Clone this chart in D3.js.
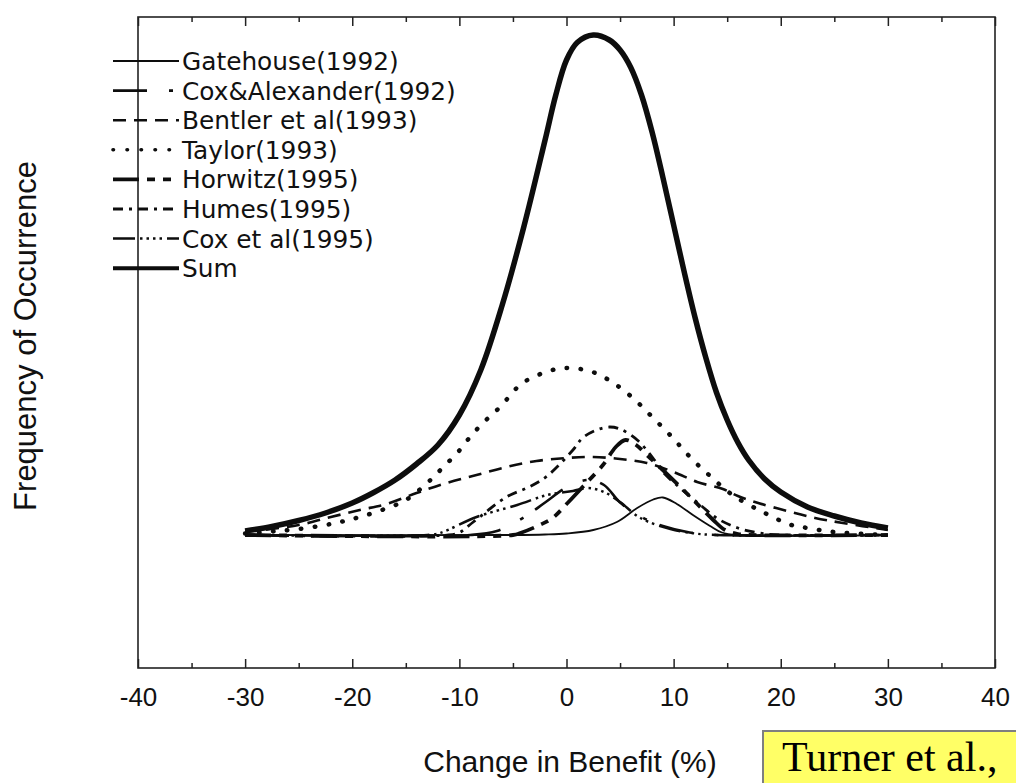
<!DOCTYPE html>
<html>
<head>
<meta charset="utf-8">
<script src="https://cdn.jsdelivr.net/npm/d3@7"></script>
<style>
  html, body { margin: 0; padding: 0; background: #fff; }
  svg { display: block; }
  .tick text { font-family: "Liberation Sans", Arial, sans-serif; font-size: 26px; fill: #111; }
  .legend text { font-family: "DejaVu Sans", Verdana, sans-serif; font-size: 24.8px; fill: #111; }
</style>
</head>
<body>
<svg id="chart" width="1016" height="783"></svg>
<script>
// x = change in benefit (%), y = frequency (sum peak ~ 100)
var names = ["Gatehouse(1992)", "Cox&Alexander(1992)", "Bentler et al(1993)", "Taylor(1993)",
             "Horwitz(1995)", "Humes(1995)", "Cox et al(1995)", "Sum"];

var gatehouse = [[-30,0],[-5,0],[-2,0.1],[0,0.3],[2.5,1],[4.7,2.6],[6.6,5.4],[8.1,7.1],[9,7.5],
                 [10.3,6.2],[11.8,4],[13.4,1.8],[14.5,0.5],[16,0],[30,0]];
var coxAlexander = [[-30,0],[-9,0],[-6.5,0.8],[-4,3.5],[-2,6.5],[0,9.5],[2,11],[3.5,10],[5,6.5],
                    [7,3.6],[9,1.8],[11.5,0.5],[14,0],[30,0]];
var bentler = [[-30,0.6],[-25,2],[-22,3.6],[-19.3,5],[-16.8,6.2],[-14,8.4],[-11.2,10.4],[-8.4,12],
               [-5.6,13.6],[-2.8,14.8],[0,15.4],[2.5,15.6],[5,15.2],[7.5,14.4],[10,12.6],[12.2,10.6],
               [14.6,9.2],[16,7.8],[17.9,6.4],[20.6,4.8],[23.2,3.4],[25.8,2.4],[30,1]];
var taylor = [[-30,0.3],[-27.5,0.7],[-25,1.2],[-22,2.2],[-20,3.2],[-17.5,4.8],[-15,7],[-12.7,11],
              [-11.5,13.6],[-10.2,16.4],[-9,19.6],[-7.8,22.4],[-6.2,25.6],[-4.1,30.4],[-1.3,33],
              [0,33.4],[1.3,33.2],[2.7,32.4],[4.1,30.8],[5.3,29],[6.7,26.4],[8,23.6],[9.4,20.6],
              [10.6,17.8],[11.8,15],[13.2,12.2],[15.5,8],[18.5,4.4],[21,2],[22.5,1.4],[25,0.6],[30,0]];
var horwitz = [[-30,0],[-5,0],[-4.3,0.4],[-2.5,2],[-1.3,3.4],[0.1,6.4],[1.5,9.6],[3.4,14],[4.6,17.6],
               [5.5,19],[6.5,18],[7.5,16],[8.7,13.6],[11.2,8.4],[13.7,3],[14.8,1],[16,0.2],[17,0],[30,0]];
var humes = [[-30,0],[-11,0],[-10,0.5],[-8.7,2.6],[-5.6,7.6],[-3.5,9.6],[-1.8,11.8],[0.6,17],[1.5,19.4],
             [2.8,21],[4,21.6],[5,21.2],[6.6,19],[8,15.6],[9,12.6],[10.6,9.4],[12.5,6],[14,3.4],
             [16,1.4],[18,0.4],[20,0],[30,0]];
var coxEtAl = [[-30,0],[-13,0],[-11.8,0.4],[-8.4,3.6],[-4.6,6],[-1.8,8],[0.6,8.8],[2,9.4],[3.5,8.6],
               [5,6.6],[6.9,3.4],[9.7,1.2],[12,0.3],[14,0],[30,0]];
var sum = [[-30,0.8],[-27.5,1.7],[-25,2.9],[-22.5,4.4],[-20,6.4],[-18,8.5],[-16,11],[-14,14.2],
           [-12,18],[-10,24],[-8,33],[-6,46],[-4,61.5],[-2,79],[-1,88],[0,95],[1,98.5],[2.5,100],
           [4,99],[5,97],[6,93.5],[7,88],[8,80.5],[9,71.5],[10,62],[11,52.5],[12,43.5],[13,35.5],
           [14,28.5],[15,23],[16,18.5],[17,15],[18.5,11.2],[20,8.6],[22.5,5.6],[25,3.8],[27.5,2.4],[30,1.4]];

var series = [gatehouse, coxAlexander, bentler, taylor, horwitz, humes, coxEtAl, sum];

var xMajor = [-40, -30, -20, -10, 0, 10, 20, 30, 40];
var xMinor = [-35, -25, -15, -5, 5, 15, 25, 35];

// line looks, same order as names
var styles = [
  { w: 1.8, dash: null },
  { w: 2.6, dash: "34,22,4,14" },
  { w: 2.6, dash: "13,8" },
  { w: 4.5, dash: "0.5,13.5", cap: "round" },
  { w: 3.8, dash: "26,8,8,8,8,8" },
  { w: 2.8, dash: "10,6,3,6" },
  { w: 2.5, dash: "22,5,2.5,4,2.5,4,2.5,4,2.5,5" },
  { w: 5.5, dash: null, legendW: 4 }
];

var svg = d3.select("#chart"),
    pl = 138, pr = 995, pt = 17, pb = 668;

var x = d3.scaleLinear().domain([-40, 40]).range([pl, pr]);
var y = d3.scaleLinear().domain([-26.6, 103.6]).range([pb, pt]);

// frame
svg.append("rect")
    .attr("x", pl).attr("y", pt)
    .attr("width", pr - pl).attr("height", pb - pt)
    .attr("fill", "none").attr("stroke", "#222").attr("stroke-width", 1.6);

// bottom axis: ticks point inward
var gB = svg.append("g").attr("transform", "translate(0," + pb + ")");
gB.call(d3.axisBottom(x).tickValues(xMajor).tickSize(-9).tickPadding(20)
    .tickFormat(function(d) { return String(d); }));
gB.append("g").call(d3.axisBottom(x).tickValues(xMinor).tickSize(-5).tickFormat(""));
gB.selectAll(".domain").remove();
gB.selectAll(".tick line").attr("stroke", "#222").attr("stroke-width", 1.5);
gB.selectAll("text").attr("font-family", null).attr("font-size", null);

// top axis: ticks point down
var gT = svg.append("g").attr("transform", "translate(0," + pt + ")");
gT.call(d3.axisTop(x).tickValues(xMajor).tickSize(-9).tickFormat(""));
gT.append("g").call(d3.axisTop(x).tickValues(xMinor).tickSize(-5).tickFormat(""));
gT.selectAll(".domain").remove();
gT.selectAll(".tick line").attr("stroke", "#222").attr("stroke-width", 1.5);

// curves
var line = d3.line()
    .x(function(d) { return x(d[0]); })
    .y(function(d) { return y(d[1]); })
    .curve(d3.curveCatmullRom.alpha(0.5));

svg.append("g").selectAll("path")
  .data(series)
  .enter().append("path")
    .attr("d", line)
    .attr("fill", "none")
    .attr("stroke", "#0d0d0d")
    .attr("stroke-width", function(d, i) { return styles[i].w; })
    .attr("stroke-dasharray", function(d, i) { return styles[i].dash; })
    .attr("stroke-linecap", function(d, i) { return styles[i].cap || "butt"; })
    .attr("stroke-linejoin", "round");

// legend
var legend = svg.append("g").attr("class", "legend");
var row = legend.selectAll("g")
  .data(names)
  .enter().append("g")
    .attr("transform", function(d, i) { return "translate(113," + (61 + i * 29.6) + ")"; });

row.append("line")
    .attr("x1", 0).attr("x2", 66)
    .attr("stroke", "#0d0d0d")
    .attr("stroke-width", function(d, i) { return styles[i].legendW || Math.min(styles[i].w, 3.6); })
    .attr("stroke-dasharray", function(d, i) { return styles[i].dash; })
    .attr("stroke-linecap", function(d, i) { return styles[i].cap || "butt"; });

row.append("text")
    .attr("x", 69).attr("dy", "0.36em")
    .text(function(d) { return d; });

// axis titles
svg.append("text")
    .attr("transform", "translate(36,336) rotate(-90)")
    .attr("text-anchor", "middle")
    .attr("font-family", "Liberation Sans, Arial, sans-serif")
    .attr("font-size", 31)
    .attr("fill", "#111")
    .text("Frequency of Occurrence");

svg.append("text")
    .attr("x", 570).attr("y", 772)
    .attr("text-anchor", "middle")
    .attr("font-family", "Liberation Sans, Arial, sans-serif")
    .attr("font-size", 30)
    .attr("fill", "#111")
    .text("Change in Benefit (%)");

// citation box
svg.append("rect")
    .attr("x", 763).attr("y", 731)
    .attr("width", 260).attr("height", 60)
    .attr("fill", "#ffff66").attr("stroke", "#7f7f7f").attr("stroke-width", 2);

svg.append("text")
    .attr("x", 782).attr("y", 771)
    .attr("font-family", "Liberation Serif, Times New Roman, serif")
    .attr("font-size", 42)
    .attr("fill", "#000")
    .text("Turner et al.,");
</script>
</body>
</html>
